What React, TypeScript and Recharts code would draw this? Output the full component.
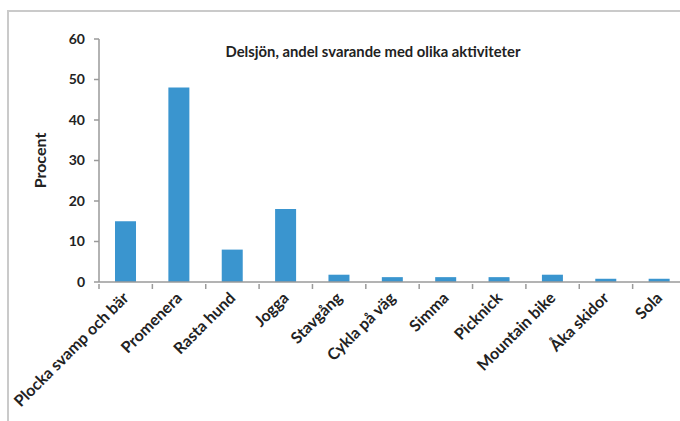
import React from 'react';
import {BarChart, Bar, XAxis, YAxis, Label} from 'recharts';

const categories = [
  'Plocka svamp och bär',
  'Promenera',
  'Rasta hund',
  'Jogga',
  'Stavgång',
  'Cykla på väg',
  'Simma',
  'Picknick',
  'Mountain bike',
  'Åka skidor',
  'Sola',
];
const procent = [15, 48, 8, 18, 1.8, 1.2, 1.2, 1.2, 1.8, 0.8, 0.8];
const yTicks = [0, 10, 20, 30, 40, 50, 60];

const data = categories.map((name, i) => ({name, procent: procent[i]}));

const FONT = 'Lato, "Liberation Sans", sans-serif';
const AXIS_GREY = '#9a9a9a';

// label rotated -45deg plus small tick marks at the band edges
function AngledTick(props: any) {
  const {x, y, payload, index, width, visibleTicksCount} = props;
  const band = width && visibleTicksCount ? width / visibleTicksCount : 53.4;
  const tx = x + 4;
  const ty = y + 15;
  return (
    <g>
      <line x1={x - band / 2} y1={y} x2={x - band / 2} y2={y + 5} stroke={AXIS_GREY} strokeWidth={1.5}/>
      {index === visibleTicksCount - 1 && (
        <line x1={x + band / 2} y1={y} x2={x + band / 2} y2={y + 5} stroke={AXIS_GREY} strokeWidth={1.5}/>
      )}
      <text
        x={tx}
        y={ty}
        transform={`rotate(-45, ${tx}, ${ty})`}
        textAnchor="end"
        fontFamily={FONT}
        fontWeight="bold"
        fontSize={16}
        fill="#222"
      >
        {payload.value}
      </text>
    </g>
  );
}

export default function App() {
  return (
    <div style={{position: 'absolute', left: 0, top: 0, width: 680, height: 421, overflow: 'hidden', background: '#fff'}}>
      <div style={{position: 'absolute', left: 7, top: 10, width: 800, height: 600, border: '2px solid #cacaca'}}/>
      <BarChart
        width={720}
        height={421}
        data={data}
        margin={{top: 39, right: 34, bottom: 138, left: 0}}
        barCategoryGap="30%"
        style={{position: 'absolute', left: 0, top: 0}}
      >
        <XAxis
          dataKey="name"
          interval={0}
          stroke={AXIS_GREY}
          strokeWidth={1.5}
          tickLine={false}
          tickSize={0}
          height={1}
          tick={<AngledTick/>}
        />
        <YAxis
          domain={[0, 60]}
          ticks={yTicks}
          width={99}
          tickSize={5}
          tickMargin={9}
          stroke={AXIS_GREY}
          strokeWidth={1.5}
          tick={{fill: '#222', fontFamily: FONT, fontWeight: 'bold', fontSize: 14}}
        >
          <Label
            value="Procent"
            angle={-90}
            position="insideLeft"
            offset={40}
            style={{fill: '#222', fontFamily: FONT, fontWeight: 'bold', fontSize: 16, textAnchor: 'middle'}}
          />
        </YAxis>
        <Bar dataKey="procent" fill="#3a95cf" isAnimationActive={false}/>
      </BarChart>
      <div
        style={{
          position: 'absolute',
          left: 173,
          top: 42,
          width: 400,
          textAlign: 'center',
          fontFamily: FONT,
          fontWeight: 'bold',
          fontSize: 14.8,
          color: '#222',
        }}
      >
        Delsjön, andel svarande med olika aktiviteter
      </div>
    </div>
  );
}
